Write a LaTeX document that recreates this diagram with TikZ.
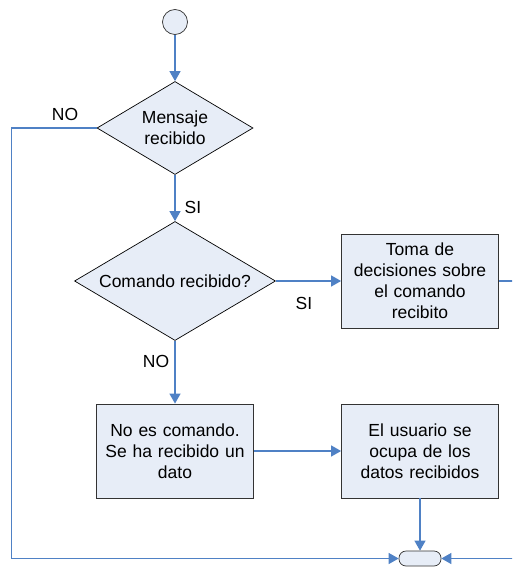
\documentclass[tikz,border=0pt]{standalone}
\usepackage{fontspec}
\setmainfont{Liberation Sans}
\usetikzlibrary{shapes.geometric,arrows.meta}
\definecolor{flujo}{RGB}{79,129,197}
\definecolor{relleno}{RGB}{231,237,247}
\begin{document}
\begin{tikzpicture}[x=1pt,y=-1pt,
    font=\fontsize{17.5}{21}\selectfont,
    caja/.style={draw=black!80, fill=relleno, line width=0.8pt, minimum width=157pt,
                 minimum height=94pt, text width=150pt, align=center, inner sep=0pt},
    rombo/.style={diamond, draw=black, fill=relleno, line width=0.7pt, inner sep=0pt, align=center},
    conn/.style={draw=flujo, line width=1.2pt, -{Triangle[length=10pt,width=11pt]}},
    etiq/.style={inner sep=0pt}]
    \useasboundingbox (0,0) rectangle (512,567);
    \clip (0,0) rectangle (512,567);

    \node[circle, draw=black!80, fill=relleno, line width=0.7pt, minimum size=25pt, inner sep=0pt] (inicio) at (175,22) {};
    \node[rombo, aspect=1.68, minimum width=156pt, minimum height=93pt] (mensaje) at (175,128) {Mensaje\\recibido};
    \node[rombo, aspect=1.69, minimum width=201pt, minimum height=119pt] (comando) at (175,281) {Comando recibido?};
    \node[caja] (toma) at (420,281) {Toma de\\decisiones sobre\\el comando\\recibito};
    \node[caja] (dato) at (175,451) {No es comando.\\Se ha recibido un\\dato};
    \node[caja] (usuario) at (420,451) {El usuario se\\ocupa de los\\datos recibidos};
    \node[draw=black!80, fill=relleno, line width=0.7pt, rounded corners=7pt, minimum width=42pt,
          minimum height=15pt, inner sep=0pt] (fin) at (420,558.5) {};

    \draw[conn] (inicio) -- (mensaje);
    \draw[conn] (mensaje) -- (comando);
    \draw[conn] (comando) -- (toma);
    \draw[conn] (comando) -- (dato);
    \draw[conn] (dato) -- (usuario);
    \draw[conn] (usuario) -- (fin);
    \draw[conn] (mensaje.west) -- ++(-85,0) |- (fin.west);
    \draw[conn] (toma.east) -- ++(30,0) |- (fin.east);

    \node[etiq] (no1) at (65,114) {NO};
    \node[etiq] (si1) at (193,207) {SI};
    \node[etiq] (si2) at (304,303) {SI};
    \node[etiq] (no2) at (156,361) {NO};
\end{tikzpicture}
\end{document}
